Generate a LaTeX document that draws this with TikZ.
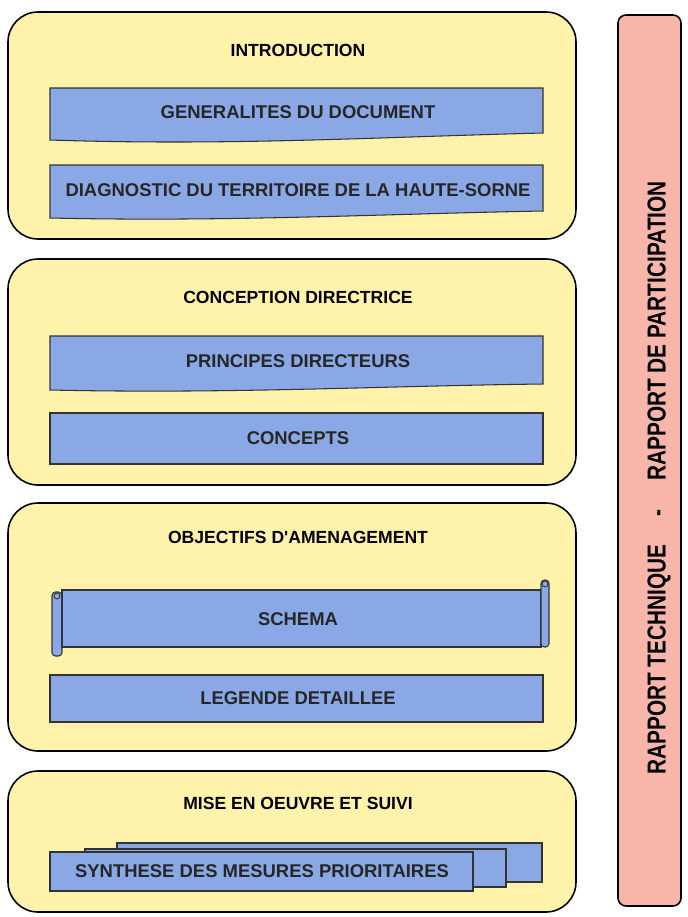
\documentclass[tikz,border=0pt]{standalone}
\usepackage{fontspec}
\setmainfont{Liberation Sans}
\newfontfamily\narrowfont{Liberation Sans}[FakeStretch=0.8]
\usetikzlibrary{positioning}
\definecolor{panelyellow}{RGB}{255,243,172}
\definecolor{barblue}{RGB}{138,168,230}
\definecolor{tabpink}{RGB}{248,182,170}

\begin{document}
\begin{tikzpicture}[x=0.02cm,y=-0.02cm,
    panel/.style={draw=black,line width=0.9pt,fill=panelyellow,rounded corners=0.6cm},
    bar/.style={draw=black!80,line width=0.6pt,fill=barblue},
    title/.style={font=\fontsize{10}{12}\selectfont\bfseries},
    label/.style={font=\fontsize{10.5}{12}\selectfont\bfseries,text=black!85}
  ]
    \useasboundingbox (0,0) rectangle (687,917);
    % the four parts
    \path[panel] (8,12) rectangle (576,239);
    \path[panel] (8,259) rectangle (576,485);
    \path[panel] (8,503) rectangle (576,751);
    \path[panel] (8,771) rectangle (576,912);
    \path[panel,fill=tabpink,rounded corners=0.16cm] (618,15) rectangle (681,906);

    % introduction
    \path[bar] (50,88) -- (543,88) -- (543,133) .. controls (380,137) and (230,146) .. (50,140) -- cycle;
    \path[bar] (50,165) -- (543,165) -- (543,211) .. controls (380,214) and (230,222) .. (50,218) -- cycle;
    % conception directrice
    \path[bar] (50,336) -- (543,336) -- (543,384) .. controls (380,386) and (230,394) .. (50,390) -- cycle;
    \path[bar] (50,413) rectangle (543,464);
    % objectifs
    \path[bar,rounded corners=2pt] (52,592) rectangle (62,656);
    \path[bar] (62,590) rectangle (541,647);
    \path[bar,rounded corners=2pt] (541,580) rectangle (549,647);
    \draw[black!80,line width=0.5pt] (57,596) circle (3);
    \draw[black!80,line width=0.5pt] (545,584) circle (3);
    \path[bar] (50,675) rectangle (543,722);
    % mise en oeuvre
    \path[bar] (117,843) rectangle (542,882);
    \path[bar] (85,849) rectangle (506,887);
    \path[bar] (50,852) rectangle (473,891);

    \node[title] (intro) at (298,50) {INTRODUCTION};
    \node[label] (gen) at (298,112) {GENERALITES DU DOCUMENT};
    \node[label] (diag) at (298,190) {DIAGNOSTIC DU TERRITOIRE DE LA HAUTE-SORNE};
    \node[title] (concep) at (298,297) {CONCEPTION DIRECTRICE};
    \node[label] (princ) at (298,361) {PRINCIPES DIRECTEURS};
    \node[label] (concepts) at (298,438) {CONCEPTS};
    \node[title] (obj) at (298,537) {OBJECTIFS D\textquotesingle AMENAGEMENT};
    \node[label] (schema) at (298,619) {SCHEMA};
    \node[label] (legende) at (298,698) {LEGENDE DETAILLEE};
    \node[title] (mise) at (298,803) {MISE EN OEUVRE ET SUIVI};
    \node[label] (synth) at (262,871) {SYNTHESE DES MESURES PRIORITAIRES};
    \node[rotate=90,font=\narrowfont\fontsize{14.8}{16}\selectfont\bfseries] (rapport) at (659,478)
      {RAPPORT TECHNIQUE\hspace{1.1em}-\hspace{1.1em}RAPPORT DE PARTICIPATION};
  \end{tikzpicture}
\end{document}
